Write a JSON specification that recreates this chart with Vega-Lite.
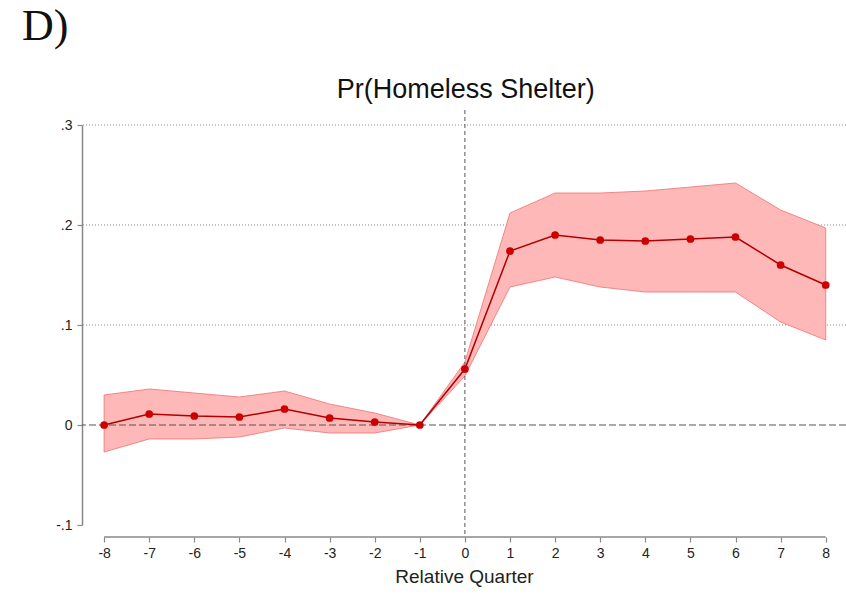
{
  "$schema": "https://vega.github.io/schema/vega-lite/v6.json",
  "width": 764,
  "height": 400,
  "autosize": "none",
  "padding": {"left": 82, "top": 125, "right": 0, "bottom": 70},
  "background": "white",
  "config": {"view": {"stroke": null}, "font": "Liberation Sans"},
  "datasets": {
    "est": [
      {"q": -8, "est": 0.000, "lo": -0.027, "hi": 0.030},
      {"q": -7, "est": 0.011, "lo": -0.014, "hi": 0.036},
      {"q": -6, "est": 0.009, "lo": -0.014, "hi": 0.032},
      {"q": -5, "est": 0.008, "lo": -0.012, "hi": 0.028},
      {"q": -4, "est": 0.016, "lo": -0.003, "hi": 0.034},
      {"q": -3, "est": 0.007, "lo": -0.008, "hi": 0.021},
      {"q": -2, "est": 0.003, "lo": -0.008, "hi": 0.012},
      {"q": -1, "est": 0.000, "lo": 0.000, "hi": 0.000},
      {"q": 0, "est": 0.056, "lo": 0.049, "hi": 0.063},
      {"q": 1, "est": 0.174, "lo": 0.138, "hi": 0.212},
      {"q": 2, "est": 0.190, "lo": 0.148, "hi": 0.232},
      {"q": 3, "est": 0.185, "lo": 0.138, "hi": 0.232},
      {"q": 4, "est": 0.184, "lo": 0.133, "hi": 0.234},
      {"q": 5, "est": 0.186, "lo": 0.133, "hi": 0.238},
      {"q": 6, "est": 0.188, "lo": 0.133, "hi": 0.242},
      {"q": 7, "est": 0.160, "lo": 0.103, "hi": 0.215},
      {"q": 8, "est": 0.140, "lo": 0.085, "hi": 0.197}
    ],
    "grid": [{"g": 0.1}, {"g": 0.2}, {"g": 0.3}],
    "zero": [{"z": 0}],
    "panel": [{"label": "D)"}],
    "title": [{"label": "Pr(Homeless Shelter)"}]
  },
  "layer": [
    {
      "data": {"name": "grid"},
      "mark": {"type": "rule", "strokeDash": [1, 2], "color": "#8a8a8a", "strokeWidth": 1},
      "encoding": {
        "y": {"field": "g", "type": "quantitative", "title": null}
      }
    },
    {
      "data": {"name": "est"},
      "mark": {"type": "area", "fill": "#ffb8b8", "stroke": "#f07070", "strokeWidth": 0.8},
      "encoding": {
        "x": {"field": "q", "type": "quantitative",
              "scale": {"domain": [-8.49, 8.45], "nice": false, "zero": false},
              "axis": {"values": [-8, -7, -6, -5, -4, -3, -2, -1, 0, 1, 2, 3, 4, 5, 6, 7, 8], "labelExpr": "(datum.value < 0 ? '-' : '') + abs(datum.value)", "offset": 12, "domain": false, "grid": false, "tickSize": 5, "tickColor": "#888888", "tickWidth": 1.2, "labelFontSize": 14, "labelColor": "#222222", "labelPadding": 4, "title": "Relative Quarter", "titleFontSize": 19, "titleFontWeight": "normal", "titleColor": "#222222", "titlePadding": 7}},
        "y": {"field": "lo", "type": "quantitative",
              "scale": {"domain": [-0.1, 0.3], "nice": false, "zero": false},
              "axis": {"values": [-0.1, 0, 0.1, 0.2, 0.3], "labelExpr": "datum.value == 0 ? '0' : (datum.value < 0 ? '-' : '') + replace(format(abs(datum.value), '.1f'), '0.', '.')", "grid": false, "domain": true, "domainColor": "#888888", "domainWidth": 1.5, "tickColor": "#888888", "tickWidth": 1.2, "tickSize": 5, "labelFontSize": 14, "labelColor": "#222222", "labelPadding": 5, "title": null}},
        "y2": {"field": "hi"}
      }
    },
    {
      "data": {"name": "zero"},
      "mark": {"type": "rule", "strokeDash": [7, 3], "color": "#555555", "strokeWidth": 1},
      "encoding": {
        "y": {"field": "z", "type": "quantitative", "title": null}
      }
    },
    {
      "data": {"name": "zero"},
      "mark": {"type": "rule", "strokeDash": [4, 3], "color": "#555555", "strokeWidth": 1},
      "encoding": {
        "x": {"datum": 0, "type": "quantitative"},
        "y": {"datum": 0.315, "type": "quantitative"},
        "y2": {"datum": -0.112}
      }
    },
    {
      "data": {"name": "zero"},
      "mark": {"type": "rule", "color": "#888888", "strokeWidth": 1.5},
      "encoding": {
        "x": {"datum": -8, "type": "quantitative"},
        "x2": {"datum": 8},
        "y": {"datum": -0.112, "type": "quantitative"}
      }
    },
    {
      "data": {"name": "est"},
      "mark": {"type": "line", "color": "#b00000", "strokeWidth": 1.5},
      "encoding": {
        "x": {"field": "q", "type": "quantitative"},
        "y": {"field": "est", "type": "quantitative", "title": null}
      }
    },
    {
      "data": {"name": "est"},
      "mark": {"type": "point", "filled": true, "size": 60, "color": "#cc0000", "opacity": 1},
      "encoding": {
        "x": {"field": "q", "type": "quantitative"},
        "y": {"field": "est", "type": "quantitative", "title": null}
      }
    },
    {
      "data": {"name": "title"},
      "mark": {"type": "text", "font": "Liberation Sans", "fontSize": 27, "align": "center", "baseline": "alphabetic", "color": "#111111"},
      "encoding": {
        "text": {"field": "label"},
        "x": {"datum": 0.02, "type": "quantitative"},
        "y": {"datum": 0.327, "type": "quantitative"}
      }
    },
    {
      "data": {"name": "panel"},
      "mark": {"type": "text", "font": "Liberation Serif", "fontSize": 44, "align": "left", "baseline": "alphabetic", "color": "#111111"},
      "encoding": {
        "text": {"field": "label"},
        "x": {"datum": -9.82, "type": "quantitative"},
        "y": {"datum": 0.385, "type": "quantitative"}
      }
    }
  ]
}
